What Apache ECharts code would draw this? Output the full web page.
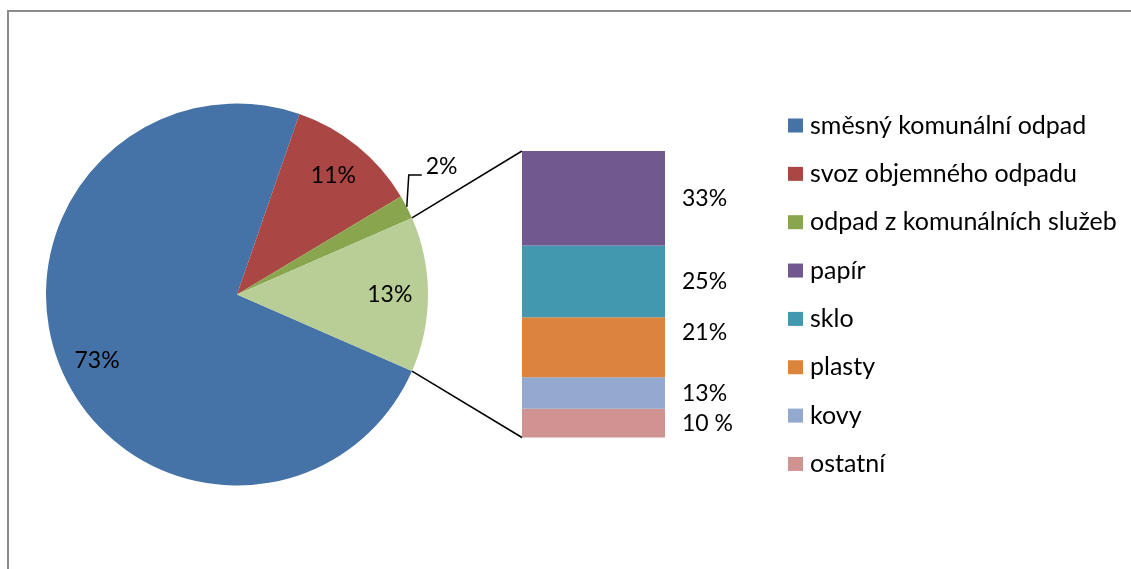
<!DOCTYPE html>
<html><head><meta charset="utf-8">
<script src="https://cdn.jsdelivr.net/npm/echarts@6/dist/echarts.min.js"></script>
<style>html,body{margin:0;padding:0;background:#fff}#c{width:1131px;height:569px}</style>
</head><body><div id="c"></div>
<script>
// ---- data ----
const pieNames = ['směsný komunální odpad', 'svoz objemného odpadu', 'odpad z komunálních služeb', 'tříděný odpad'];
const pieValues = [73, 11, 2, 13];
const pieLabels = ['73%', '11%', '2%', '13%'];
const barNames = ['papír', 'sklo', 'plasty', 'kovy', 'ostatní'];
const barValues = [33, 25, 21, 11, 10];
const barLabels = ['33%', '25%', '21%', '13%', '10 %'];
const legendNames = pieNames.slice(0, 3).concat(barNames);

// ---- styles ----
const pieColors = ['#4572A7', '#AA4643', '#89A54E', '#B9CD96'];
const barColors = ['#71588F', '#4198AF', '#DB843D', '#93A9CF', '#D19392'];
const FONT = 'Lato';
const FS = 23;
const LFS = 25;
const CX = 237, CY = 294.5, R = 191;

const pieSum = pieValues.reduce((a, b) => a + b, 0);
const barSum = barValues.reduce((a, b) => a + b, 0);
const otherIdx = pieValues.length - 1;
const otherSpan = pieValues[otherIdx] / pieSum * 360;
const startDeg = -otherSpan / 2;

function pieMid(i) {
  let a = startDeg;
  for (let k = 0; k < i; k++) a -= pieValues[k] / pieSum * 360;
  const span = pieValues[i] / pieSum * 360;
  return (a - span / 2) * Math.PI / 180;
}

const chart = echarts.init(document.getElementById('c'), null, {renderer: 'canvas'});

const barSeries = [];
for (let j = barNames.length - 1; j >= 0; j--) {
  barSeries.push({
    type: 'bar', name: barNames[j], stack: 'other', xAxisIndex: 0, yAxisIndex: 0,
    barWidth: '100%', silent: true,
    itemStyle: {color: barColors[j]},
    data: [barValues[j]],
    label: {
      show: true, position: 'right', distance: 17,
      offset: barNames[j] === 'plasty' ? [0, -15] : [0, 0],
      formatter: () => barLabels[j],
      color: '#000', fontFamily: FONT, fontSize: FS
    }
  });
}

const option = {
  animation: false,
  backgroundColor: '#fff',
  legend: {
    orient: 'vertical', left: 788, top: 113, padding: 0,
    itemWidth: 15, itemHeight: 14, itemGap: 23.35, icon: 'rect',
    selectedMode: false,
    data: legendNames,
    textStyle: {color: '#000', fontFamily: FONT, fontSize: LFS, lineHeight: 24, padding: [0, 0, 0, 2]}
  },
  grid: {left: 522, top: 151, width: 143, height: 286.5, containLabel: false},
  xAxis: {type: 'category', data: ['tříděný odpad'], show: false},
  yAxis: {type: 'value', min: 0, max: barSum, show: false},
  series: [{
    type: 'pie', name: 'odpad', center: [CX, CY], radius: R,
    startAngle: startDeg, clockwise: true, avoidLabelOverlap: false, silent: true,
    data: pieNames.map((n, i) => ({
      name: n, value: pieValues[i],
      itemStyle: {color: pieColors[i]},
      label: i === 2 ? {show: true, position: 'outside'} : {show: true, position: 'inside'},
      labelLine: {show: i === 2, lineStyle: {color: '#000', width: 1.5}}
    })),
    label: {
      color: '#000', fontFamily: FONT, fontSize: FS,
      formatter: p => pieLabels[p.dataIndex]
    },
    labelLine: {show: false, length: 20, length2: 12, smooth: false},
    labelLayout: function (p) {
      const i = p.dataIndex;
      const m = pieMid(i);
      if (i === 2) {
        const p0 = [CX + R * Math.cos(m), CY - R * Math.sin(m)];
        const p1 = [p0[0] + 2, p0[1] - 32];
        const p2 = [p1[0] + 13, p1[1]];
        return {
          x: p2[0] + 4, y: p1[1] - 8, align: 'left', verticalAlign: 'middle',
          labelLinePoints: [p0, p1, p2]
        };
      }
      return {
        x: CX + 0.8 * R * Math.cos(m), y: CY - 0.8 * R * Math.sin(m) + (i === 0 ? 5 : 0),
        align: 'center', verticalAlign: 'middle'
      };
    }
  }].concat(barSeries),
  graphic: [{
    type: 'rect', silent: true, z: -10,
    shape: {x: 8, y: 11, width: 1200, height: 700},
    style: {fill: 'none', stroke: '#8c8c8c', lineWidth: 2}
  }]
};
chart.setOption(option);

// connector lines between the "other" slice and the stacked bar
let barLeft = 522;
try {
  const lay = chart.getModel().getSeriesByIndex(1).getData().getItemLayout(0);
  barLeft = Math.min(lay.x, lay.x + lay.width);
} catch (e) {}
const yTop = chart.convertToPixel({yAxisIndex: 0}, barSum);
const yBot = chart.convertToPixel({yAxisIndex: 0}, 0);
const a = otherSpan / 2 * Math.PI / 180;
const upPt = [CX + R * Math.cos(a), CY - R * Math.sin(a)];
const loPt = [CX + R * Math.cos(a), CY + R * Math.sin(a)];
chart.setOption({
  graphic: [option.graphic[0], {
    type: 'line', silent: true, z: 10,
    shape: {x1: upPt[0], y1: upPt[1], x2: barLeft, y2: yTop},
    style: {stroke: '#000', lineWidth: 1.5}
  }, {
    type: 'line', silent: true, z: 10,
    shape: {x1: loPt[0], y1: loPt[1], x2: barLeft, y2: yBot},
    style: {stroke: '#000', lineWidth: 1.5}
  }]
});
</script></body></html>
